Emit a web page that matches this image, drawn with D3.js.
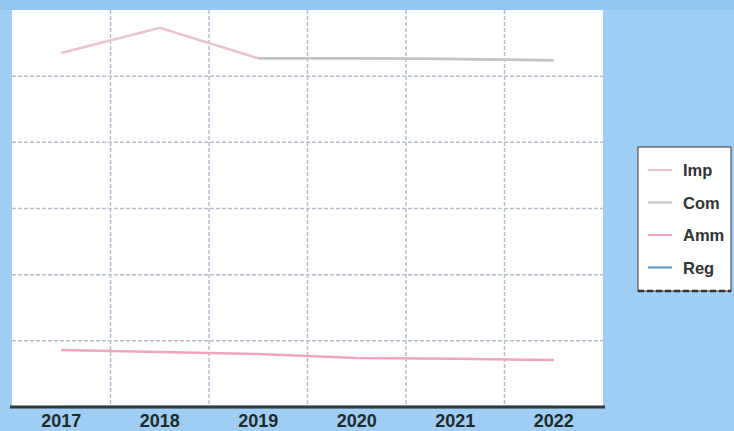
<!DOCTYPE html>
<html><head><meta charset="utf-8">
<script src="https://cdn.jsdelivr.net/npm/d3@7/dist/d3.min.js"></script>
<style>body{margin:0;background:#9fcdf3;}svg{display:block;}</style>
</head><body><svg id="c" width="734" height="431"></svg>
<script>
const years = ["2017","2018","2019","2020","2021","2022"];
const imp = [53.5, 57.3, 52.7, 52.7, 52.6, 52.4];
const com = [null, null, 52.7, 52.7, 52.6, 52.4];
const amm = [8.6, 8.3, 8.0, 7.4, 7.3, 7.1];
const reg = [0, 0, 0, 0, 0, 0];
const yTicks = [10, 20, 30, 40, 50];
const seriesNames = ["Imp","Com","Amm","Reg"];
const seriesColors = ["#e8c4cc","#c4c4c8","#f2a6bc","#5b93c8"];

const svg = d3.select("#c");
const m = {l:12, r:131, t:10, b:24};
const W = 734, H = 431;
svg.append("rect").attr("x",0).attr("y",0).attr("width",W).attr("height",10).attr("fill","#92c6ef");
const x = d3.scaleBand().domain(years).range([m.l, W-m.r]);
const y = d3.scaleLinear().domain([0,60]).range([H-m.b, m.t]);
svg.append("rect").attr("x",m.l).attr("y",m.t).attr("width",W-m.r-m.l).attr("height",H-m.b-m.t).attr("fill","#fff");

const g = svg.append("g");
g.selectAll(".hg").data(yTicks).join("line")
  .attr("x1",m.l).attr("x2",W-m.r).attr("y1",d=>y(d)).attr("y2",d=>y(d))
  .attr("stroke","#b6bfcc").attr("stroke-width",1.5).attr("stroke-dasharray","4,2");
g.selectAll(".vg").data(years.slice(1)).join("line")
  .attr("x1",d=>x(d)).attr("x2",d=>x(d)).attr("y1",m.t).attr("y2",H-m.b)
  .attr("stroke","#b6bfcc").attr("stroke-width",1.5).attr("stroke-dasharray","4,2");

const data = [imp, com, amm, reg];
const line = d3.line().defined(d=>d.v!=null).x(d=>x(d.k)+x.bandwidth()/2).y(d=>y(d.v));
data.forEach((arr,i)=>{
  svg.append("path").datum(arr.map((v,j)=>({k:years[j],v})))
    .attr("d",line).attr("fill","none").attr("stroke",seriesColors[i]).attr("stroke-width",2.5);
});

const xa = svg.append("g").attr("transform",`translate(0,${H-m.b})`)
  .call(d3.axisBottom(x).tickSize(0).tickPadding(7));
xa.select(".domain").attr("stroke","#2f3b3b").attr("stroke-width",3).attr("d",`M${m.l-2},0H${W-m.r+2}`);
xa.selectAll("text").attr("font-family","Liberation Sans, Arial, sans-serif").attr("font-size",18)
  .attr("font-weight","bold").attr("fill","#1e2c2c");

const lg = svg.append("g").attr("transform","translate(638,147)");
lg.append("rect").attr("width",93).attr("height",144).attr("fill","#fff").attr("stroke","#3a3a3a").attr("stroke-width",1);
lg.append("line").attr("x1",0).attr("x2",93).attr("y1",144).attr("y2",144).attr("stroke","#333").attr("stroke-width",2.5).attr("stroke-dasharray","6,3");
seriesNames.forEach((n,i)=>{
  const yy = 23 + i*32.5;
  lg.append("line").attr("x1",10).attr("x2",34).attr("y1",yy).attr("y2",yy).attr("stroke",seriesColors[i]).attr("stroke-width",2);
  lg.append("text").attr("x",45).attr("y",yy+6).text(n).attr("font-family","Liberation Sans, Arial, sans-serif")
    .attr("font-size",16.5).attr("font-weight","bold").attr("fill","#333");
});
</script></body></html>
